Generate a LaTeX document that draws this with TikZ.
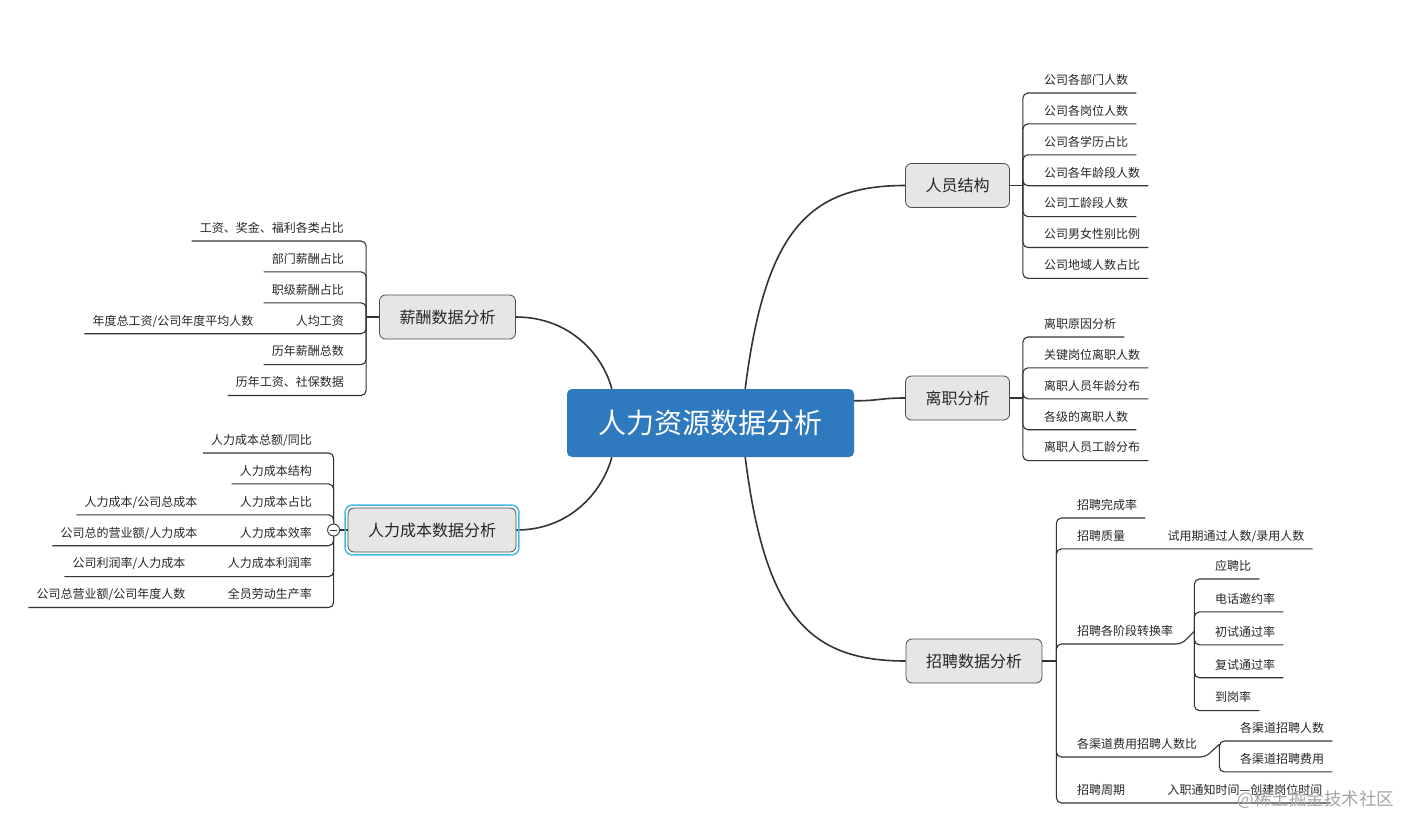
\documentclass[tikz,border=0pt]{standalone}
\usepackage{fontspec}
\setmainfont{Noto Sans CJK SC}
\usetikzlibrary{positioning, calc, fit}

\definecolor{hrblue}{RGB}{47,121,191}
\definecolor{topicgray}{RGB}{230,230,230}
\definecolor{linegray}{RGB}{51,51,51}
\definecolor{selcyan}{RGB}{70,184,232}

\begin{document}
\begin{tikzpicture}[
    x=1pt, y=-1pt,
    node distance=5.5pt,
    hr/.style={rectangle, rounded corners=5pt, fill=hrblue, text=white, minimum width=287pt, minimum height=68pt, font=\fontsize{28}{32}\selectfont},
    topic/.style={rectangle, rounded corners=6pt, draw=black!70, line width=0.8pt, fill=topicgray, text=black!85, minimum height=44pt, inner xsep=20pt, font=\fontsize{16}{18}\selectfont},
    leafR/.style={anchor=south west, inner xsep=8pt, inner ysep=6.5pt, text height=10pt, text depth=2pt, text=black!85, font=\fontsize{12}{14}\selectfont},
    leafL/.style={leafR, anchor=south east},
    rbelow/.style={below=of #1.south west, anchor=north west},
    lbelow/.style={below=of #1.south east, anchor=north east},
    curve/.style={draw=linegray, line width=1.6pt},
    branch/.style={draw=linegray, line width=1.1pt, rounded corners=5pt},
    sel/.style={draw=selcyan, line width=1.5pt, rounded corners=7pt, inner sep=2.5pt},
    fold/.style={circle, draw=linegray, line width=0.9pt, fill=white, minimum size=12pt, inner sep=0pt}
]
\useasboundingbox (0,0) rectangle (1420,835);

% === CENTRAL TOPIC ===
\node (hr) [hr] at (710.5,423) {人力资源数据分析};

% === MAIN TOPICS ===
\node (ry) [topic] at (957.5,185.5) {人员结构};
\node (lz) [topic] at (957.5,398) {离职分析};
\node (zp) [topic] at (974,661) {招聘数据分析};
\node (xc) [topic] at (447.5,317) {薪酬数据分析};
\node (cb) [topic] at (432,530) {人力成本数据分析};

\coordinate (tR) at ($(ry.east)+(13,0)$);
\coordinate (tL) at ($(lz.east)+(13,0)$);
\coordinate (tZ) at ($(zp.east)+(14,0)$);
\coordinate (tX) at ($(xc.west)+(-13,0)$);
\coordinate (tC) at ($(cb.west)+(-14,0)$);

% === CURVES from the centre ===
\draw [curve] ($(hr.north west)+(45,0)$) .. controls +(-9,-34) and +(54,0) .. (xc.east);
\draw [curve] ($(hr.south west)+(45,0)$) .. controls +(-9,34) and +(54,0) .. (cb.east);
\draw [curve] ($(hr.north east)+(-109,0)$) .. controls +(20,-159) and +(-96,0) .. (ry.west);
\draw [curve] ($(hr.south east)+(-109,0)$) .. controls +(20,159) and +(-96,0) .. (zp.west);
\draw [curve] ($(hr.north east)+(0,12)$) .. controls +(25,0) and +(-25,0) .. (lz.west);

% === 人员结构 ===
\node (r1) [leafR] at (1036,93) {公司各部门人数};
\node (r2) [leafR, rbelow=r1] {公司各岗位人数};
\node (r3) [leafR, rbelow=r2] {公司各学历占比};
\node (r4) [leafR, rbelow=r3] {公司各年龄段人数};
\node (r5) [leafR, rbelow=r4] {公司工龄段人数};
\node (r6) [leafR, rbelow=r5] {公司男女性别比例};
\node (r7) [leafR, rbelow=r6] {公司地域人数占比};

\draw [branch] (ry.east) -- (tR);
\draw [branch] (tR) |- (r1.south west) -- (r1.south east);
\draw [branch] (tR) |- (r2.south west) -- (r2.south east);
\draw [branch] (tR) |- (r3.south west) -- (r3.south east);
\draw [branch] (tR) |- (r4.south west) -- (r4.south east);
\draw [branch] (tR) |- (r5.south west) -- (r5.south east);
\draw [branch] (tR) |- (r6.south west) -- (r6.south east);
\draw [branch] (tR) |- (r7.south west) -- (r7.south east);

% === 离职分析 ===
\node (l1) [leafR] at (1036,337) {离职原因分析};
\node (l2) [leafR, rbelow=l1] {关键岗位离职人数};
\node (l3) [leafR, rbelow=l2] {离职人员年龄分布};
\node (l4) [leafR, rbelow=l3] {各级的离职人数};
\node (l5) [leafR, rbelow=l4] {离职人员工龄分布};

\draw [branch] (lz.east) -- (tL);
\draw [branch] (tL) |- (l1.south west) -- (l1.south east);
\draw [branch] (tL) |- (l2.south west) -- (l2.south east);
\draw [branch] (tL) |- (l3.south west) -- (l3.south east);
\draw [branch] (tL) |- (l4.south west) -- (l4.south east);
\draw [branch] (tL) |- (l5.south west) -- (l5.south east);

% === 招聘数据分析 ===
\node (z1) [leafR] at (1069,518) {招聘完成率};
\node (z2) [leafR, rbelow=z1] {招聘质量};
\node (z2c) [leafR, right=26pt of z2] {试用期通过人数/录用人数};
\node (z3) [leafR] at (1069,644) {招聘各阶段转换率};
\node (z4) [leafR] at (1069,757) {各渠道费用招聘人数比};
\node (z5) [leafR] at (1069,803) {招聘周期};
\node (z5c) [leafR, right=26pt of z5] {入职通知时间—创建岗位时间};

\coordinate (tZ3) at ($(z3.east)+(13,0)$);
\node (z31) [leafR] at (1207,579) {应聘比};
\node (z32) [leafR, rbelow=z31, yshift=-2pt] {电话邀约率};
\node (z33) [leafR, rbelow=z32, yshift=-2pt] {初试通过率};
\node (z34) [leafR, rbelow=z33, yshift=-2pt] {复试通过率};
\node (z35) [leafR, rbelow=z34, yshift=-2pt] {到岗率};

\coordinate (tZ4) at ($(z4.east)+(14,0)$);
\node (z41) [leafR] at (1232,741) {各渠道招聘人数};
\node (z42) [leafR, rbelow=z41] {各渠道招聘费用};

\draw [branch] (zp.east) -- (tZ);
\draw [branch] (tZ) |- (z1.south west) -- (z1.south east);
\draw [branch] (tZ) |- (z2.south west) -- (z2.south east) -- (z2c.south west) -- (z2c.south east);
\draw [branch] (tZ) |- (z3.south west) -- (z3.south east) -- (tZ3);
\draw [branch] (tZ) |- (z4.south west) -- (z4.south east) -- (tZ4);
\draw [branch] (tZ) |- (z5.south west) -- (z5.south east) -- (z5c.south west) -- (z5c.south east);
\draw [branch] (tZ3) |- (z31.south west) -- (z31.south east);
\draw [branch] (tZ3) |- (z32.south west) -- (z32.south east);
\draw [branch] (tZ3) |- (z33.south west) -- (z33.south east);
\draw [branch] (tZ3) |- (z34.south west) -- (z34.south east);
\draw [branch] (tZ3) |- (z35.south west) -- (z35.south east);
\draw [branch] (tZ4) |- (z41.south west) -- (z41.south east);
\draw [branch] (tZ4) |- (z42.south west) -- (z42.south east);

% === 薪酬数据分析 ===
\node (x1) [leafL] at (352,241) {工资、奖金、福利各类占比};
\node (x2) [leafL, lbelow=x1] {部门薪酬占比};
\node (x3) [leafL, lbelow=x2] {职级薪酬占比};
\node (x4) [leafL, lbelow=x3] {人均工资};
\node (x4c) [leafL, left=26pt of x4] {年度总工资/公司年度平均人数};
\node (x5) [leafL, lbelow=x4] {历年薪酬总数};
\node (x6) [leafL, lbelow=x5] {历年工资、社保数据};

\draw [branch] (xc.west) -- (tX);
\draw [branch] (tX) |- (x1.south east) -- (x1.south west);
\draw [branch] (tX) |- (x2.south east) -- (x2.south west);
\draw [branch] (tX) |- (x3.south east) -- (x3.south west);
\draw [branch] (tX) |- (x4.south east) -- (x4.south west) -- (x4c.south east) -- (x4c.south west);
\draw [branch] (tX) |- (x5.south east) -- (x5.south west);
\draw [branch] (tX) |- (x6.south east) -- (x6.south west);

% === 人力成本数据分析 ===
\node (c1) [leafL] at (320,453) {人力成本总额/同比};
\node (c2) [leafL, lbelow=c1] {人力成本结构};
\node (c3) [leafL, lbelow=c2] {人力成本占比};
\node (c4) [leafL, lbelow=c3] {人力成本效率};
\node (c5) [leafL, lbelow=c4] {人力成本利润率};
\node (c6) [leafL, lbelow=c5] {全员劳动生产率};
\node (c3c) [leafL, left=26pt of c3] {人力成本/公司总成本};
\node (c4c) [leafL, left=26pt of c4] {公司总的营业额/人力成本};
\node (c5c) [leafL, left=26pt of c5] {公司利润率/人力成本};
\node (c6c) [leafL, left=26pt of c6] {公司总营业额/公司年度人数};

\draw [branch] (tC) |- (c1.south east) -- (c1.south west);
\draw [branch] (tC) |- (c2.south east) -- (c2.south west);
\draw [branch] (tC) |- (c3.south east) -- (c3.south west) -- (c3c.south east) -- (c3c.south west);
\draw [branch] (tC) |- (c4.south east) -- (c4.south west) -- (c4c.south east) -- (c4c.south west);
\draw [branch] (tC) |- (c5.south east) -- (c5.south west) -- (c5c.south east) -- (c5c.south west);
\draw [branch] (tC) |- (c6.south east) -- (c6.south west) -- (c6c.south east) -- (c6c.south west);

% collapse button and selection frame
\node (fold) [fold] at (tC) {};
\draw [linegray, line width=0.9pt, shorten <=3pt, shorten >=3pt] (fold.west) -- (fold.east);
\draw [branch] (cb.west) -- (fold.east);
\node (cbsel) [sel, fit=(cb)] {};

% watermark
\node (wm) [text=black!35, font=\fontsize{17.5}{20}\selectfont] at (1316,800) {@稀土掘金技术社区};

\end{tikzpicture}
\end{document}
